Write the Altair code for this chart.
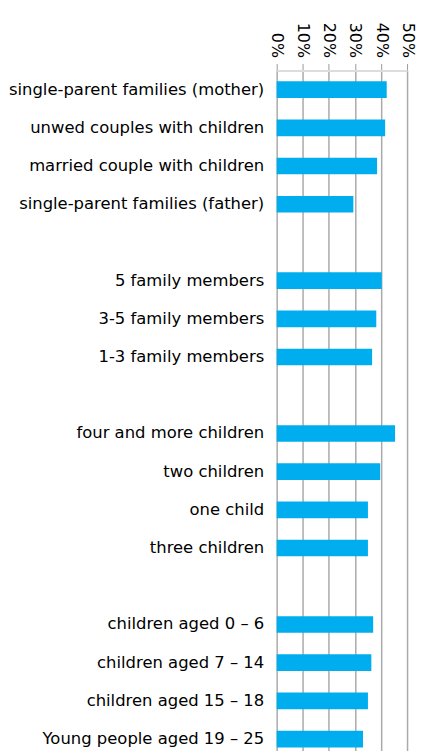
import altair as alt
import pandas as pd

categories = [
    "single-parent families (mother)",
    "unwed couples with children",
    "married couple with children",
    "single-parent families (father)",
    " ",
    "5 family members",
    "3-5 family members",
    "1-3 family members",
    "  ",
    "four and more children",
    "two children",
    "one child",
    "three children",
    "   ",
    "children aged 0 \u2013 6",
    "children aged 7 \u2013 14",
    "children aged 15 \u2013 18",
    "Young people aged 19 \u2013 25",
]
values = [
    0.422, 0.416, 0.385, 0.294, None,
    0.403, 0.382, 0.366, None,
    0.454, 0.397, 0.350, 0.350, None,
    0.370, 0.363, 0.350, 0.331,
]
tick_values = [0, 0.1, 0.2, 0.3, 0.4, 0.5]

df = pd.DataFrame({"category": categories, "value": values}).dropna()

FONT = "DejaVu Sans"

chart = (
    alt.Chart(df)
    .mark_bar(color="#00AEEF")
    .encode(
        x=alt.X(
            "value:Q",
            scale=alt.Scale(domain=[0, 0.5], nice=False),
            axis=alt.Axis(
                orient="top",
                format="%",
                values=tick_values,
                labelAngle=90,
                labelFont=FONT,
                labelFontSize=16,
                labelColor="#000000",
                labelPadding=6,
                tickSize=7,
                tickColor="#999999",
                domainColor="#dddddd",
                domainWidth=2,
                gridColor="#aaaaaa",
                gridWidth=1.5,
                title=None,
            ),
        ),
        y=alt.Y(
            "category:N",
            sort=categories,
            scale=alt.Scale(domain=categories, paddingInner=0.565, paddingOuter=0.2825),
            axis=alt.Axis(
                domain=False,
                ticks=False,
                grid=False,
                labelFont=FONT,
                labelFontSize=16.5,
                labelColor="#000000",
                labelPadding=13,
                labelLimit=400,
                title=None,
            ),
        ),
    )
    .properties(
        width=131,
        height=691,
        padding={"left": 0, "top": 12, "right": 3, "bottom": 0},
    )
    .configure_view(stroke=None)
)

chart.save("out.html", embed_options={"renderer": "svg", "actions": False})
